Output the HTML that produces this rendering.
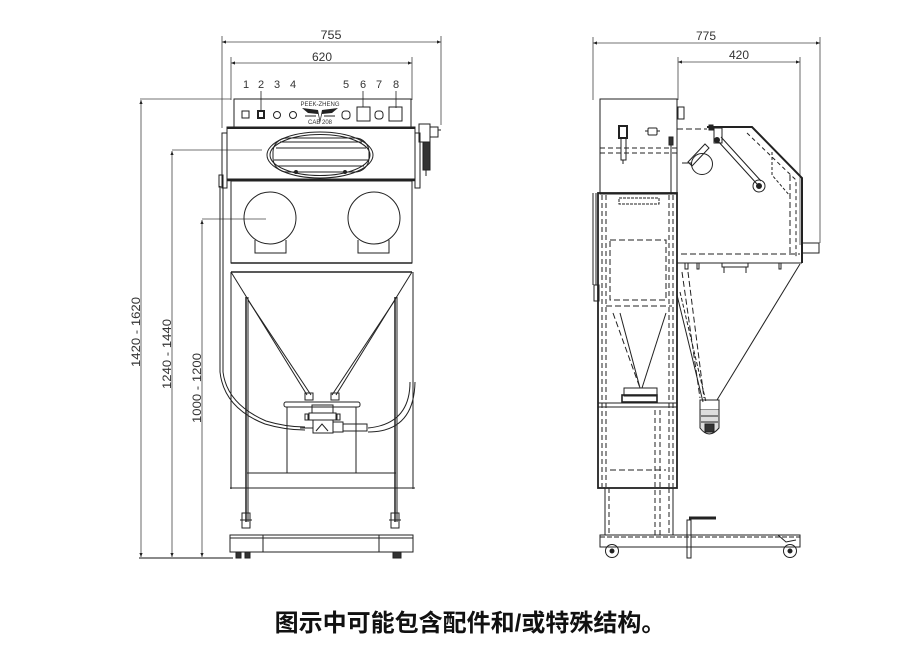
<!DOCTYPE html>
<html><head><meta charset="utf-8">
<style>
html,body{margin:0;padding:0;background:#fff;}
body{width:919px;height:671px;overflow:hidden;position:relative;}
svg{position:absolute;left:0;top:0;}
.cap{position:absolute;left:0;top:603px;width:940px;text-align:center;font-family:"Liberation Sans","Noto Sans CJK SC",sans-serif;font-size:24px;font-weight:bold;color:#111;letter-spacing:0px;}
</style></head><body>
<svg width="919" height="671" viewBox="0 0 919 671" xmlns="http://www.w3.org/2000/svg">
<defs>
<marker id="a" viewBox="0 0 10 10" refX="10" refY="5" markerWidth="7" markerHeight="5" orient="auto-start-reverse"><path d="M0,1 L10,5 L0,9 Z" fill="#222"/></marker>
</defs>
<g font-family="Liberation Sans, sans-serif" fill="#333" font-size="12">
<!-- LEFT VIEW DIMENSIONS -->
<g stroke="#444" stroke-width="0.8" fill="none">
<line x1="222" y1="36" x2="222" y2="128"/>
<line x1="441" y1="36" x2="441" y2="125"/>
<line x1="222" y1="42" x2="441" y2="42" marker-start="url(#a)" marker-end="url(#a)"/>
<line x1="231" y1="57" x2="231" y2="100"/>
<line x1="412" y1="57" x2="412" y2="100"/>
<line x1="231" y1="63" x2="412" y2="63" marker-start="url(#a)" marker-end="url(#a)"/>
<line x1="140" y1="99" x2="231" y2="99"/>
<line x1="172" y1="150" x2="262" y2="150"/>
<line x1="202" y1="219" x2="266" y2="219"/>
<line x1="141" y1="100" x2="141" y2="557" marker-start="url(#a)" marker-end="url(#a)"/>
<line x1="172" y1="151" x2="172" y2="557" marker-start="url(#a)" marker-end="url(#a)"/>
<line x1="202" y1="220" x2="202" y2="557" marker-start="url(#a)" marker-end="url(#a)"/>
<line x1="139" y1="558" x2="233" y2="558" stroke-width="1.2"/>
</g>
<text x="331" y="39" text-anchor="middle" textLength="21" lengthAdjust="spacingAndGlyphs">755</text>
<text x="322" y="61" text-anchor="middle" textLength="20" lengthAdjust="spacingAndGlyphs">620</text>
<text transform="translate(140,332) rotate(-90)" text-anchor="middle" textLength="70" lengthAdjust="spacingAndGlyphs">1420 - 1620</text>
<text transform="translate(171,354) rotate(-90)" text-anchor="middle" textLength="70" lengthAdjust="spacingAndGlyphs">1240 - 1440</text>
<text transform="translate(201,388) rotate(-90)" text-anchor="middle" textLength="70" lengthAdjust="spacingAndGlyphs">1000 - 1200</text>
<g font-size="11">
<text x="246" y="88" text-anchor="middle">1</text>
<text x="261" y="88" text-anchor="middle">2</text>
<text x="277" y="88" text-anchor="middle">3</text>
<text x="293" y="88" text-anchor="middle">4</text>
<text x="346" y="88" text-anchor="middle">5</text>
<text x="363" y="88" text-anchor="middle">6</text>
<text x="379" y="88" text-anchor="middle">7</text>
<text x="396" y="88" text-anchor="middle">8</text>
</g>
<g stroke="#222" stroke-width="0.8">
<line x1="261" y1="91" x2="261" y2="111"/>
<line x1="363" y1="91" x2="363" y2="107"/>
<line x1="396" y1="91" x2="396" y2="108"/>
</g>

<!-- LEFT VIEW BODY -->
<g stroke="#222" stroke-width="1" fill="none">
<!-- control panel -->
<rect x="234" y="99" width="177" height="28"/>
<rect x="242" y="111" width="7" height="7"/>
<rect x="258" y="111" width="6" height="7" stroke-width="2"/>
<circle cx="277" cy="115" r="3.5"/>
<circle cx="293" cy="115" r="3.5"/>
<rect x="342" y="111" width="8" height="8" rx="3"/>
<rect x="357" y="107" width="13" height="14"/>
<rect x="375" y="111" width="8" height="8" rx="3"/>
<rect x="389" y="107" width="13" height="14"/>
<!-- logo wings -->
<path d="M302,108 L318,110 L320,120 L322,110 L338,108 L332,113 L322,114 L320,123 L318,114 L308,113 Z" fill="#222" stroke="none"/>
<path d="M305,116 L316,116 M324,116 L335,116" />
<!-- upper box -->
<rect x="227" y="127" width="188" height="52"/>
<line x1="227" y1="128" x2="415" y2="128" stroke-width="2"/>
<ellipse cx="320" cy="155" rx="53" ry="23"/>
<ellipse cx="320" cy="155" rx="50" ry="20.5"/>
<rect x="273" y="138" width="96" height="34" rx="14"/>
<line x1="280" y1="142" x2="362" y2="142"/>
<line x1="276" y1="148" x2="366" y2="148"/>
<line x1="274" y1="160" x2="368" y2="160"/>
<line x1="278" y1="166" x2="364" y2="166"/>
<circle cx="296" cy="172" r="1.5" fill="#222"/>
<circle cx="345" cy="172" r="1.5" fill="#222"/>
<!-- side brackets -->
<rect x="222" y="133" width="5" height="55"/>
<rect x="415" y="133" width="5" height="55"/>
<rect x="219" y="175" width="4" height="12"/>
<!-- regulator right -->
<rect x="419" y="124" width="11" height="18"/>
<rect x="430" y="127" width="8" height="10"/>
<line x1="438" y1="130" x2="441" y2="130"/>
<rect x="423" y="142" width="7" height="28" fill="#333"/>
<line x1="426" y1="170" x2="426" y2="176"/>
<!-- lower chamber -->
<line x1="227" y1="180" x2="415" y2="180" stroke-width="2.5"/>
<rect x="231" y="181" width="181" height="82"/>
<circle cx="270" cy="218" r="26"/>
<path d="M255,240 L255,253 L286,253 L286,240"/>
<circle cx="374" cy="218" r="26"/>
<path d="M358,240 L358,253 L389,253 L389,240"/>
<line x1="231" y1="263" x2="412" y2="263" stroke-width="1.5"/>
<line x1="231" y1="272" x2="412" y2="272" stroke-width="1.5"/>
<!-- hose left vertical -->
<line x1="220" y1="186" x2="220" y2="372"/>
<line x1="223" y1="186" x2="223" y2="372"/>
<path d="M220,372 Q224,408 265,424 Q285,430 305,430"/>
<path d="M223,372 Q227,404 266,421 Q286,427 305,427"/>
<!-- hose right -->
<path d="M410,382 Q410,424 368,428"/>
<path d="M415,382 Q414,432 368,432"/>
<!-- frame -->
<line x1="231" y1="272" x2="231" y2="489"/>
<line x1="413" y1="272" x2="413" y2="489"/>
<line x1="230" y1="488" x2="415" y2="488"/>
<line x1="246" y1="297" x2="246" y2="522" stroke-width="1.5"/>
<line x1="248" y1="297" x2="248" y2="522"/>
<line x1="395" y1="297" x2="395" y2="522" stroke-width="1.5"/>
<line x1="397" y1="297" x2="397" y2="522"/>
<line x1="247" y1="473" x2="396" y2="473"/>
<!-- cone -->
<line x1="231" y1="272" x2="307" y2="395"/>
<line x1="248" y1="300" x2="311" y2="395"/>
<line x1="412" y1="272" x2="336" y2="395"/>
<line x1="395" y1="300" x2="332" y2="395"/>
<rect x="305" y="393" width="8" height="7"/>
<rect x="331" y="393" width="8" height="7"/>
<!-- inner box -->
<rect x="284" y="402" width="76" height="5" rx="2"/>
<line x1="287" y1="407" x2="287" y2="473"/>
<line x1="356" y1="407" x2="356" y2="473"/>
<rect x="312" y="405" width="21" height="8"/>
<rect x="309" y="413" width="27" height="7"/>
<rect x="305" y="414" width="3" height="6"/>
<rect x="337" y="414" width="3" height="6"/>
<rect x="313" y="420" width="20" height="13"/>
<path d="M316,431 L322,424 L328,431"/>
<rect x="333" y="422" width="10" height="10"/>
<rect x="343" y="424" width="24" height="7"/>
<line x1="300" y1="428" x2="313" y2="428"/>
<!-- leveling feet -->
<rect x="242" y="513" width="8" height="15"/>
<rect x="391" y="513" width="8" height="15"/>
<line x1="240" y1="520" x2="252" y2="520"/>
<line x1="389" y1="520" x2="401" y2="520"/>
<!-- base -->
<rect x="230" y="535" width="183" height="17"/>
<line x1="230" y1="538" x2="413" y2="538"/>
<rect x="263" y="535" width="116" height="17"/>
<rect x="236" y="552" width="5" height="6" fill="#333"/>
<rect x="245" y="552" width="5" height="6" fill="#333"/>
<rect x="393" y="552" width="8" height="6" fill="#333"/>
</g>
<text x="320" y="106" text-anchor="middle" font-size="6" fill="#333">PEEK-ZHENG</text>
<text x="320" y="124" text-anchor="middle" font-size="6" fill="#333">CAB 208</text>

<!-- RIGHT VIEW DIMENSIONS -->
<g stroke="#444" stroke-width="0.8" fill="none">
<line x1="593" y1="37" x2="593" y2="100"/>
<line x1="820" y1="37" x2="820" y2="243"/>
<line x1="593" y1="43" x2="820" y2="43" marker-start="url(#a)" marker-end="url(#a)"/>
<line x1="678" y1="57" x2="678" y2="100"/>
<line x1="800" y1="57" x2="800" y2="245"/>
<line x1="678" y1="62" x2="800" y2="62" marker-start="url(#a)" marker-end="url(#a)"/>
</g>
<text x="706" y="40" text-anchor="middle" textLength="20" lengthAdjust="spacingAndGlyphs">775</text>
<text x="739" y="59" text-anchor="middle" textLength="20" lengthAdjust="spacingAndGlyphs">420</text>

<!-- RIGHT VIEW BODY -->
<g stroke="#222" stroke-width="1" fill="none">
<rect x="600" y="99" width="77" height="95"/>
<line x1="600" y1="148" x2="677" y2="148" stroke-dasharray="5,3"/>
<line x1="600" y1="153" x2="677" y2="153" stroke-dasharray="5,3"/>
<rect x="619" y="126" width="8" height="12" stroke-width="2"/>
<rect x="621" y="138" width="5" height="22"/>
<line x1="623" y1="160" x2="623" y2="164"/>
<rect x="648" y="128" width="9" height="7" rx="1"/>
<line x1="645" y1="131" x2="648" y2="131"/><line x1="657" y1="131" x2="660" y2="131"/>
<rect x="669" y="137" width="4" height="8" fill="#333"/>
<line x1="671" y1="145" x2="671" y2="193"/>
<rect x="678" y="107" width="6" height="12"/>
<!-- column -->
<rect x="598" y="193" width="79" height="295" stroke-width="1.8"/>
<line x1="602" y1="195" x2="602" y2="487" stroke-dasharray="5,3"/>
<line x1="673" y1="195" x2="673" y2="487" stroke-dasharray="5,3"/>
<line x1="606" y1="195" x2="606" y2="487" stroke-dasharray="5,3"/>
<line x1="669" y1="195" x2="669" y2="487" stroke-dasharray="5,3"/>
<rect x="619" y="198" width="40" height="6" stroke-dasharray="3,1"/>
<rect x="610" y="240" width="56" height="60" stroke-dasharray="6,3"/>
<line x1="606" y1="306" x2="672" y2="306" stroke-dasharray="6,3"/>
<line x1="613" y1="313" x2="640" y2="388" stroke-dasharray="6,3"/>
<line x1="666" y1="313" x2="642" y2="388"/>
<line x1="620" y1="313" x2="640" y2="388"/>
<rect x="624" y="388" width="33" height="8"/>
<rect x="622" y="395" width="35" height="7" stroke-width="1.6"/>
<line x1="598" y1="403" x2="677" y2="403"/>
<line x1="598" y1="407" x2="677" y2="407"/>
<line x1="610" y1="470" x2="666" y2="470" stroke-dasharray="6,3"/>
<line x1="655" y1="410" x2="655" y2="535" stroke-dasharray="5,3"/>
<line x1="660" y1="410" x2="660" y2="535" stroke-dasharray="5,3"/>
<rect x="594" y="285" width="5" height="16"/>
<line x1="593" y1="193" x2="593" y2="285"/>
<line x1="596" y1="193" x2="596" y2="285"/>
<!-- lower column -->
<line x1="605" y1="488" x2="605" y2="535"/>
<line x1="673" y1="488" x2="673" y2="535"/>
<line x1="609" y1="488" x2="609" y2="535" stroke-dasharray="5,3"/>
<line x1="669" y1="488" x2="669" y2="535" stroke-dasharray="5,3"/>
<!-- base -->
<rect x="600" y="535" width="200" height="12"/>
<line x1="600" y1="537" x2="800" y2="537" stroke-dasharray="5,2"/>
<circle cx="612" cy="551" r="6.5"/>
<circle cx="612" cy="551" r="2" fill="#222"/>
<circle cx="790" cy="551" r="6.5"/>
<circle cx="790" cy="551" r="2" fill="#222"/>
<path d="M778,535 L786,542 L796,540"/>
<!-- handle -->
<rect x="687" y="520" width="4" height="38"/>
<line x1="689" y1="518" x2="716" y2="518" stroke-width="3"/>
<!-- hopper cabinet -->
<line x1="677" y1="129" x2="707" y2="129" stroke-dasharray="6,3"/>
<path d="M707,127 L752,127 L802,178 L802,263" stroke-width="2"/>
<line x1="677" y1="129" x2="677" y2="263"/>
<line x1="677" y1="263" x2="802" y2="263"/>
<line x1="681" y1="254" x2="800" y2="254" stroke-dasharray="6,3"/>
<path d="M747,133 L796,180 L796,258" stroke-dasharray="4,3"/>
<line x1="790" y1="175" x2="790" y2="254" stroke-dasharray="6,3"/>
<path d="M772,152 L772,175 L790,196" stroke-dasharray="3,2"/>
<rect x="802" y="243" width="17" height="10"/>
<rect x="709" y="125" width="4" height="5" fill="#222"/>
<path d="M714,128 L722,128 L722,143 L714,143 Z"/>
<circle cx="717" cy="140" r="2.5" fill="#222"/>
<path d="M717,140 L757,184" stroke-width="1"/>
<path d="M721,137 L761,181"/>
<circle cx="759" cy="186" r="6"/>
<circle cx="759" cy="186" r="2.5" fill="#222"/>
<circle cx="702" cy="164" r="10.5"/>
<path d="M688,162 L705,144 L709,148 L692,166 Z"/>
<line x1="682" y1="163" x2="692" y2="163"/>
<!-- tabs at bottom -->
<rect x="685" y="263" width="3" height="6"/>
<rect x="697" y="263" width="2" height="6"/>
<rect x="722" y="263" width="26" height="4"/>
<line x1="724" y1="267" x2="724" y2="273"/><line x1="746" y1="267" x2="746" y2="273"/>
<rect x="779" y="263" width="2" height="6"/>
<!-- cone -->
<line x1="800" y1="264" x2="717" y2="400"/>
<line x1="682" y1="272" x2="700" y2="398" stroke-dasharray="6,3"/>
<line x1="688" y1="272" x2="704" y2="398" stroke-dasharray="6,3"/>
<line x1="677" y1="295" x2="703" y2="402"/>
<line x1="680" y1="292" x2="706" y2="402" stroke-dasharray="4,2"/>
<rect x="700" y="400" width="19" height="10"/>
<path d="M700,410 L700,428 Q709,440 719,428 L719,410" fill="#ddd"/>
<line x1="701" y1="416" x2="718" y2="416"/>
<line x1="701" y1="422" x2="718" y2="422"/>
<rect x="705" y="424" width="9" height="8" fill="#333"/>
</g>
</g>
</svg>
<div class="cap">图示中可能包含配件和/或特殊结构。</div>
</body></html>
